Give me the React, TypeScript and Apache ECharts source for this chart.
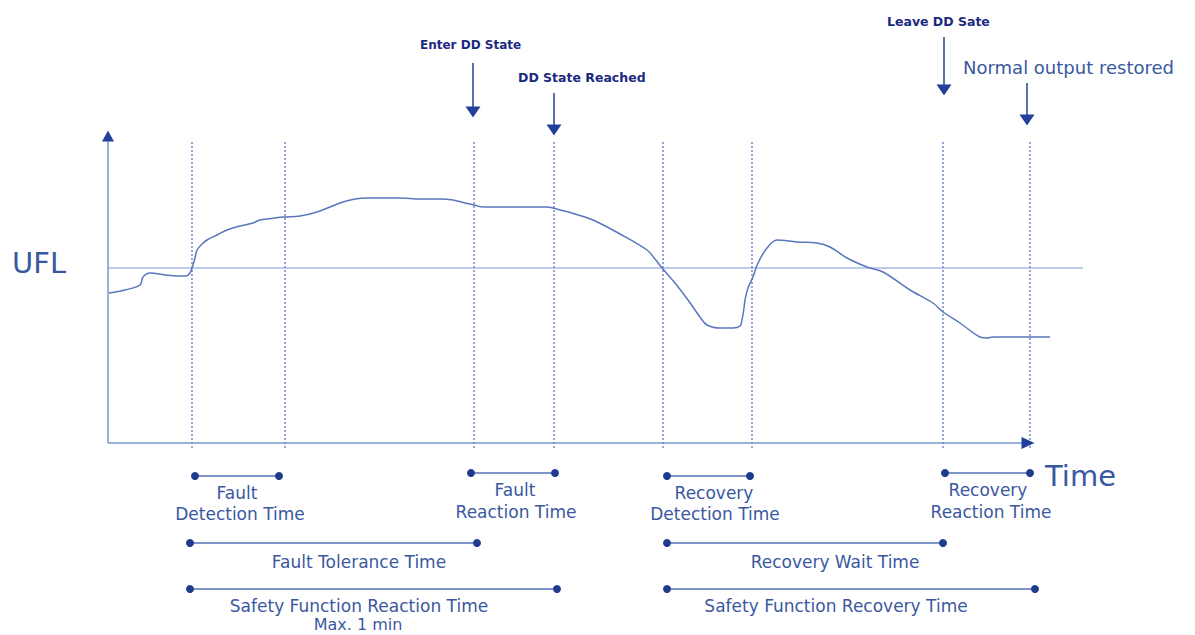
import React, { useEffect, useRef } from "react";
import * as echarts from "echarts";

// time (x) and signal level (y) in plot units
const curveT = [1, 17, 32, 35, 42, 57, 69, 78, 82, 85, 87, 89, 94, 99, 109, 119, 132, 145, 152, 159, 175, 192, 209, 222, 235, 247, 259, 277, 292, 312, 332, 345, 357, 366, 375, 392, 422, 439, 452, 467, 485, 512, 539, 547, 555, 567, 580, 592, 599, 612, 625, 632, 634, 636, 637, 640, 645, 650, 659, 669, 689, 709, 722, 739, 759, 775, 802, 825, 835, 852, 872, 879, 885, 912, 942];
const curveV = [150, 153, 158, 166, 170, 168, 167, 167, 170, 178, 185, 193, 199, 203, 208, 213, 217, 220, 223, 224, 226, 227, 231, 236, 241, 244, 245, 245, 245, 244, 244, 243, 240, 238, 236, 236, 236, 236, 233, 229, 223, 209, 193, 184, 174, 160, 143, 126, 118, 115, 115, 117, 123, 135, 143, 155, 166, 180, 195, 203, 201, 200, 196, 185, 176, 171, 153, 140, 131, 120, 106, 105, 106, 106, 106];
const uflLevel = 175;
const tMax = 975;
const vMax = 313;
const eventTimes = [84, 177, 366, 446, 555, 644, 835, 922];
const eventLineRange = [-5, 303];

// top event arrows: time, start level, arrow level
const topArrowNames = ["Enter DD State", "DD State Reached", "Leave DD Sate", "Normal output restored"];
const topArrowT = [365, 446, 836, 919];
const topArrowFrom = [380, 350, 406, 360];
const topArrowTo = [331, 313, 353, 323];

// interval bars below the axis
const intervalNames = ["Fault Detection Time", "Fault Reaction Time", "Recovery Detection Time", "Recovery Reaction Time", "Fault Tolerance Time", "Recovery Wait Time", "Safety Function Reaction Time", "Safety Function Recovery Time"];
const intervalStart = [87, 363, 559, 837, 82, 559, 82, 559];
const intervalEnd = [171, 447, 642, 922, 369, 835, 449, 927];
const intervalRow = [-33, -30, -33, -30, -100, -100, -146, -146];

const AXIS = "#7d97d4";
const DARK = "#22409a";
const CURVE = "#5a76bd";
const TEXT = "#3a58a0";
const FONT = "DejaVu Sans, sans-serif";

function seg(name: string, a: number[], b: number[], lineStyle: any, endSym?: any, extra?: any) {
  const data: any[] = [{ value: a, symbol: "none" }, endSym ? { value: b, ...endSym } : { value: b, symbol: "none" }];
  return {
    type: "line",
    name,
    data,
    clip: false,
    silent: true,
    showSymbol: true,
    symbol: "none",
    lineStyle,
    itemStyle: { color: DARK },
    z: 3,
    ...extra,
  };
}

export default function App() {
  const ref = useRef<HTMLDivElement>(null);
  useEffect(() => {
    if (!ref.current) return;
    const chart = echarts.init(ref.current, undefined, { renderer: "svg" });
    const series: any[] = [];
    // y axis
    series.push(seg("yaxis", [0, 0], [0, 307], { color: AXIS, width: 1.5 }, { symbol: "triangle", symbolSize: [12, 11], itemStyle: { color: DARK } }));
    // x axis
    series.push(seg("xaxis", [0, 0], [920, 0], { color: AXIS, width: 1.5 }, { symbol: "triangle", symbolSize: [12, 13], symbolRotate: -90, itemStyle: { color: DARK } }));
    // UFL
    series.push(seg("UFL", [0, uflLevel], [tMax, uflLevel], { color: AXIS, width: 1 }));
    // event lines
    eventTimes.forEach((t, i) => {
      series.push(seg("event" + i, [t, eventLineRange[0]], [t, eventLineRange[1]], { color: "#6f8ad0", width: 1.5, type: [2, 2] }));
    });
    // top arrows
    topArrowT.forEach((t, i) => {
      series.push(seg(topArrowNames[i], [t, topArrowFrom[i]], [t, topArrowTo[i]], { color: DARK, width: 1.5 }, { symbol: "triangle", symbolSize: [15, 11], symbolRotate: 180, itemStyle: { color: DARK } }));
    });
    // curve
    series.push({
      type: "line",
      name: "signal",
      data: curveT.map((t, i) => [t, curveV[i]]),
      smooth: 0.35,
      showSymbol: false,
      clip: false,
      silent: true,
      lineStyle: { color: CURVE, width: 1.5 },
      z: 4,
    });
    // intervals
    intervalStart.forEach((s, i) => {
      series.push({
        type: "line",
        name: intervalNames[i],
        data: [[s, intervalRow[i]], [intervalEnd[i], intervalRow[i]]],
        clip: false,
        silent: true,
        symbol: "circle",
        symbolSize: 8,
        showSymbol: true,
        lineStyle: { color: "#5570b8", width: 1.5 },
        itemStyle: { color: "#1f3c8c" },
      });
    });

    const t = (text: string, x: number, y: number, opts: any = {}) => ({
      type: "text",
      x,
      y,
      silent: true,
      style: {
        text,
        fill: TEXT,
        font: `17px ${FONT}`,
        textAlign: "center",
        textVerticalAlign: "middle",
        ...opts,
      },
    });
    const bold = { fill: "#1b2a80", font: `bold 12.5px ${FONT}`, textAlign: "left" };
    const graphic = [
      t("UFL", 12, 263, { font: `29px ${FONT}`, textAlign: "left" }),
      t("Time", 1045, 476, { font: `29px ${FONT}`, textAlign: "left" }),
      t("Enter DD State", 420, 45, { ...bold, font: `bold 12px ${FONT}` }),
      t("DD State Reached", 518, 77, bold),
      t("Leave DD Sate", 887, 21, bold),
      t("Normal output restored", 963, 67, { font: `18px ${FONT}`, textAlign: "left" }),
      t("Fault", 237, 493),
      t("Detection Time", 240, 514),
      t("Fault", 515, 490),
      t("Reaction Time", 516, 512),
      t("Fault Tolerance Time", 359, 562),
      t("Safety Function Reaction Time", 359, 606),
      t("Max. 1 min", 358, 624, { font: `16px ${FONT}` }),
      t("Recovery", 714, 493),
      t("Detection Time", 715, 514),
      t("Recovery", 988, 490),
      t("Reaction Time", 991, 512),
      t("Recovery Wait Time", 835, 562),
      t("Safety Function Recovery Time", 836, 606),
    ];

    chart.setOption({
      animation: false,
      backgroundColor: "#ffffff",
      grid: { left: 108, top: 130, width: tMax, height: vMax },
      xAxis: { type: "value", min: 0, max: tMax, show: false },
      yAxis: { type: "value", min: 0, max: vMax, show: false },
      series,
      graphic,
    });
    return () => chart.dispose();
  }, []);
  return <div ref={ref} style={{ position: "fixed", left: 0, top: 0, width: 1195, height: 635, background: "#fff" }} />;
}
